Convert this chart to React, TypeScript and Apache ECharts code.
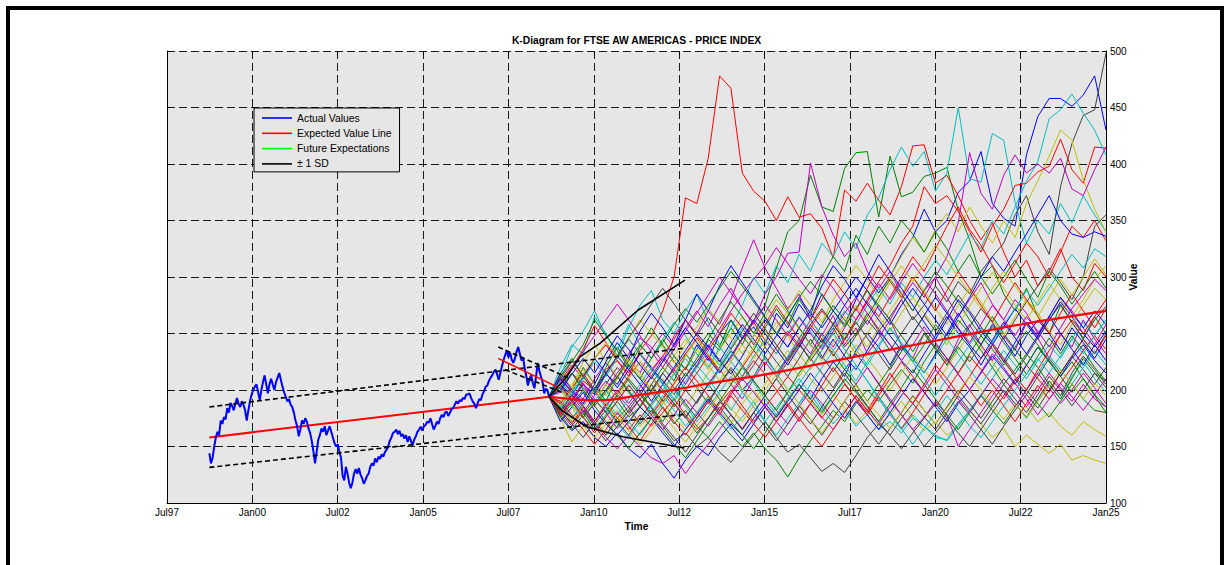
import React, { useEffect, useRef } from "react";
import * as echarts from "echarts";

const TITLE = "K-Diagram for FTSE AW AMERICAS - PRICE INDEX";
const FONT = '"Liberation Sans", Arial, Helvetica, sans-serif';

const X_MIN = 1997.5;
const X_MAX = 2025;
const X_INTERVAL = 2.5;
const Y_MIN = 100;
const Y_MAX = 500;
const Y_INTERVAL = 50;

// Actual values (evenly spaced observations)
const ACTUAL_START = 1998.74;
const ACTUAL_END = 2008.69;
const ACTUAL_VALUES = [
  144, 135, 140, 150, 158, 163, 160, 173, 170, 176,
  174, 184, 180, 188.5, 186, 182, 188, 193, 188, 185,
  190, 187, 182, 173, 182, 190, 196, 200, 203, 205,
  198, 191, 200, 207, 213, 205, 197, 205, 210, 205,
  200, 207, 211, 215, 209, 203, 198, 194, 190, 192,
  187, 185, 180, 173, 168, 159, 165, 173, 170, 175,
  172, 166, 162, 155, 146, 135, 145, 156, 160, 166,
  163, 168, 160, 164, 168, 163, 158, 153, 150, 152,
  145, 140, 124, 120, 132, 126, 118, 113, 118, 126,
  130, 126, 131, 125, 122, 117, 120, 124, 126, 132,
  135, 133, 139.5, 136, 141, 139, 143, 141, 145, 147,
  150, 155, 158, 162, 163, 165, 161, 164, 159, 161,
  157, 160, 154, 159, 155, 151, 156, 159, 163, 165,
  167.5, 164, 168, 169, 172, 171, 175, 170, 165, 168,
  172, 170, 175, 178, 176, 180, 181, 177, 180, 183,
  184, 187, 190, 188, 191, 190, 193, 192, 196, 196,
  197, 193, 190, 188, 184, 188, 192, 191, 196, 199,
  203, 204, 208, 211, 213, 216, 218, 214, 209, 215,
  221, 226.5, 231, 235, 229, 233, 227, 224, 228, 234,
  238, 232, 226, 229, 219, 212, 204, 210, 213, 206,
  201.5, 212, 224, 217, 212, 207, 197, 201, 200, 194,
];

// Historical trend and its +/- 1 SD band
const HIST_TREND_YEARS = [1998.74, 2008.69];
const HIST_TREND_VALUES = [158, 194];
const HIST_SD_YEARS = [1998.74, 2012.65];
const HIST_SD_UPPER = [185, 237];
const HIST_SD_LOWER = [131.5, 178.5];

// Local (recent) trend with band
const LOCAL_TREND_YEARS = [2007.2, 2008.91];
const LOCAL_TREND_VALUES = [228, 203];
const LOCAL_UPPER_YEARS = [2007.2, 2009.24];
const LOCAL_UPPER_VALUES = [238, 211];
const LOCAL_LOWER_YEARS = [2007.4, 2009.06];
const LOCAL_LOWER_VALUES = [218, 198];

// Future expected value
const FUT_EXP_YEARS = [2008.69, 2009.5, 2010.3, 2011.35, 2012.5, 2013.5, 2014.87, 2016.5, 2018.38, 2020.5, 2022.5, 2025];
const FUT_EXP_VALUES = [194, 191.5, 191, 195.6, 201, 206.5, 213, 222.5, 234, 246.5, 258, 270];

// Future +/- 1 SD
const FUT_SD_UP_YEARS = [2008.69, 2009.21, 2009.6, 2010.18, 2011.3, 2012.67];
const FUT_SD_UP_VALUES = [194, 211.8, 229.5, 241.3, 270.8, 297.3];
const FUT_SD_LO_YEARS = [2008.69, 2009.06, 2009.79, 2010.85, 2012.65];
const FUT_SD_LO_VALUES = [194, 182, 167.5, 158.7, 148.6];

// Simulated future paths
const FUTURE_START = 2008.69;
const FUTURE_END = 2025;
const FUTURE_PATHS: number[][] = [
  [194, 178, 190, 205, 196, 214, 205, 222, 210, 198,
   215, 230, 218, 240, 226, 250, 262, 245, 256, 240,
   268, 255, 276, 262, 285, 270, 258, 280, 300, 286,
   300, 320, 335, 360, 340, 350, 375, 385, 411, 365,
   352, 345, 408, 442, 458, 458, 451, 461, 478, 430],
  [194, 210, 198, 220, 205, 190, 212, 200, 185, 205,
   220, 208, 232, 220, 245, 235, 255, 240, 262, 275,
   308, 340, 350, 390, 362, 358, 396, 410, 411, 353,
   407, 371, 375, 389, 392, 397, 359, 333, 300, 310,
   285, 270, 290, 265, 250, 275, 260, 245, 265, 250],
  [194, 203, 190, 208, 200, 218, 226, 212, 235, 248,
   270, 300, 370, 365, 405, 478, 467, 392, 376, 367,
   350, 371, 353, 356, 343, 317, 377, 367, 383, 368,
   355, 380, 416, 417, 383, 390, 372, 350, 333, 348,
   322, 300, 315, 292, 305, 325, 300, 288, 312, 300],
  [194, 220, 240, 232, 265, 250, 230, 255, 275, 288,
   262, 250, 270, 285, 260, 240, 255, 275, 300, 285,
   310, 295, 320, 305, 330, 318, 340, 325, 355, 370,
   395, 415, 398, 411, 376, 392, 450, 387, 384, 427,
   421, 366, 330, 350, 338, 365, 348, 372, 355, 340],
  [194, 185, 200, 192, 210, 224, 210, 232, 246, 238,
   225, 248, 262, 250, 270, 258, 280, 308, 333, 308,
   290, 272, 285, 262, 248, 266, 240, 255, 232, 246,
   262, 240, 228, 250, 236, 222, 245, 258, 240, 226,
   248, 235, 260, 246, 228, 250, 238, 262, 245, 232],
  [194, 172, 185, 168, 176, 160, 172, 182, 168, 178,
   190, 176, 165, 180, 195, 182, 170, 188, 200, 186,
   175, 192, 205, 190, 178, 196, 184, 170, 182, 168,
   178, 190, 176, 164, 172, 160, 168, 182, 170, 158,
   166, 150, 160, 152, 144, 152, 138, 142, 138, 135],
  [194, 182, 196, 185, 170, 182, 195, 180, 192, 205,
   190, 200, 215, 202, 188, 205, 218, 200, 212, 230,
   215, 228, 242, 226, 240, 255, 238, 250, 268, 252,
   265, 280, 262, 275, 292, 278, 296, 285, 305, 318,
   330, 355, 372, 340, 320, 380, 418, 443, 448, 498],
  [194, 176, 164, 172, 158, 150, 162, 148, 140, 152,
   135, 122, 138, 150, 142, 158, 170, 160, 175, 188,
   176, 190, 205, 192, 210, 225, 212, 235, 250, 238,
   222, 240, 228, 215, 232, 250, 268, 252, 240, 258,
   245, 230, 248, 262, 250, 235, 255, 242, 228, 245],
  [194, 185, 172, 180, 165, 178, 190, 176, 185, 198,
   184, 170, 182, 168, 158, 172, 160, 150, 162, 148,
   138, 123, 140, 155, 168, 182, 172, 188, 200, 190,
   205, 218, 206, 225, 240, 228, 215, 232, 248, 236,
   222, 238, 252, 240, 226, 212, 225, 210, 196, 185],
  [194, 208, 222, 210, 228, 240, 226, 215, 232, 220,
   205, 218, 232, 246, 230, 216, 228, 245, 260, 244,
   232, 250, 238, 255, 270, 258, 245, 262, 280, 296,
   310, 330, 345, 380, 365, 372, 358, 340, 322, 345,
   360, 381, 383, 393, 398, 422, 395, 383, 415, 414],
  [194, 180, 192, 176, 165, 178, 190, 205, 192, 180,
   195, 182, 168, 180, 194, 178, 165, 176, 190, 172,
   160, 175, 188, 200, 185, 170, 182, 168, 178, 165,
   172, 162, 175, 168, 158, 156, 170, 182, 196, 185,
   200, 188, 175, 190, 205, 192, 212, 225, 210, 198],
  [194, 198, 215, 205, 188, 200, 215, 228, 215, 236,
   250, 238, 255, 270, 256, 275, 290, 272, 260, 285,
   300, 321, 322, 401, 362, 337, 318, 330, 305, 290,
   305, 285, 270, 288, 300, 282, 265, 280, 295, 276,
   262, 280, 268, 250, 265, 282, 270, 255, 240, 258],
  [194, 190, 205, 218, 205, 195, 210, 225, 212, 200,
   215, 230, 245, 232, 218, 236, 250, 265, 250, 238,
   255, 270, 288, 275, 260, 280, 295, 310, 298, 282,
   300, 318, 335, 322, 342, 356, 340, 362, 345, 330,
   350, 335, 365, 385, 407, 430, 421, 386, 360, 340],
  [194, 188, 175, 186, 172, 160, 175, 185, 170, 182,
   168, 155, 162, 150, 158, 145, 136, 148, 160, 172,
   158, 145, 152, 140, 128, 135, 127, 142, 158, 170,
   160, 175, 188, 176, 165, 180, 195, 182, 170, 185,
   200, 188, 176, 192, 208, 195, 215, 230, 218, 205],
  [194, 205, 195, 212, 228, 215, 202, 218, 232, 220,
   208, 196, 212, 225, 240, 226, 214, 230, 248, 262,
   250, 238, 255, 240, 228, 245, 230, 218, 235, 252,
   240, 226, 215, 232, 248, 265, 250, 238, 222, 240,
   256, 272, 258, 245, 262, 278, 265, 250, 238, 252],
  [194, 215, 228, 212, 200, 220, 238, 222, 210, 228,
   245, 230, 218, 236, 250, 238, 262, 248, 235, 255,
   272, 258, 280, 265, 300, 318, 305, 337, 320, 345,
   330, 350, 338, 322, 340, 325, 305, 320, 300, 285,
   300, 315, 298, 282, 305, 292, 276, 290, 305, 290],
  [194, 182, 170, 185, 172, 188, 175, 165, 178, 168,
   180, 192, 178, 165, 175, 188, 200, 186, 172, 185,
   198, 212, 200, 188, 175, 190, 205, 192, 180, 195,
   210, 225, 212, 198, 185, 200, 215, 230, 218, 205,
   192, 208, 222, 210, 198, 215, 230, 245, 232, 248],
  [194, 212, 238, 252, 270, 248, 235, 258, 240, 228,
   245, 260, 248, 232, 220, 238, 225, 212, 230, 245,
   232, 250, 265, 252, 238, 255, 270, 258, 275, 290,
   276, 295, 282, 300, 315, 302, 320, 338, 325, 350,
   338, 362, 385, 402, 440, 448, 462, 445, 430, 408],
  [194, 205, 192, 180, 195, 208, 196, 185, 198, 212,
   200, 188, 175, 190, 205, 218, 205, 192, 210, 225,
   212, 228, 245, 232, 250, 238, 255, 272, 258, 275,
   262, 280, 295, 282, 300, 318, 348, 410, 374, 360,
   390, 408, 392, 400, 392, 405, 378, 372, 395, 415],
  [194, 175, 154, 168, 158, 170, 182, 170, 185, 198,
   210, 196, 185, 200, 215, 228, 215, 200, 190, 205,
   220, 235, 222, 210, 198, 212, 225, 240, 228, 215,
   200, 215, 230, 218, 205, 220, 235, 250, 238, 225,
   210, 198, 185, 172, 180, 168, 160, 172, 165, 159],
  [194, 200, 215, 202, 190, 205, 220, 208, 195, 212,
   228, 215, 200, 188, 205, 220, 235, 222, 208, 195,
   210, 225, 240, 228, 215, 202, 218, 232, 220, 205,
   190, 178, 165, 150, 162, 175, 190, 178, 165, 152,
   168, 182, 196, 184, 200, 215, 230, 218, 205, 220],
  [194, 172, 185, 198, 182, 170, 160, 172, 185, 175,
   162, 150, 165, 178, 192, 180, 168, 155, 170, 185,
   172, 186, 200, 215, 202, 188, 175, 190, 178, 165,
   180, 195, 210, 198, 185, 172, 188, 200, 215, 230,
   218, 205, 222, 238, 225, 212, 228, 240, 226, 215],
  [194, 210, 225, 240, 262, 248, 235, 220, 238, 255,
   240, 225, 212, 228, 245, 262, 278, 265, 250, 268,
   285, 270, 255, 240, 258, 275, 262, 248, 265, 282,
   298, 285, 270, 288, 305, 292, 278, 262, 248, 265,
   250, 236, 222, 238, 225, 212, 198, 210, 195, 180],
  [194, 188, 202, 215, 200, 186, 198, 212, 225, 212,
   198, 185, 200, 215, 230, 218, 205, 220, 235, 222,
   238, 252, 240, 258, 245, 230, 245, 262, 278, 265,
   282, 300, 318, 305, 325, 345, 362, 342, 328, 310,
   295, 312, 330, 318, 300, 322, 345, 335, 350, 332],
  [194, 202, 186, 175, 188, 200, 185, 172, 160, 175,
   188, 200, 186, 172, 185, 198, 212, 198, 185, 172,
   185, 198, 210, 196, 182, 195, 208, 222, 208, 192,
   178, 165, 178, 168, 160, 155, 168, 182, 196, 210,
   225, 212, 200, 215, 230, 218, 205, 220, 235, 222],
  [194, 180, 168, 182, 170, 158, 148, 160, 150, 140,
   135, 142, 126, 140, 152, 165, 178, 166, 180, 195,
   182, 170, 185, 200, 188, 175, 190, 205, 220, 206,
   192, 178, 165, 176, 190, 178, 150, 165, 180, 195,
   210, 198, 185, 200, 215, 202, 190, 205, 192, 185],
  [194, 215, 202, 225, 240, 226, 212, 228, 215, 200,
   188, 205, 220, 236, 222, 208, 225, 240, 228, 244,
   260, 248, 232, 218, 235, 250, 265, 252, 238, 255,
   270, 285, 300, 288, 272, 258, 275, 290, 278, 262,
   248, 265, 280, 268, 252, 240, 258, 275, 290, 280],
  [194, 182, 170, 158, 172, 185, 172, 160, 175, 188,
   200, 188, 176, 190, 205, 192, 178, 165, 180, 195,
   210, 196, 182, 170, 185, 200, 215, 200, 186, 172,
   160, 148, 162, 175, 188, 175, 162, 150, 165, 180,
   195, 210, 196, 212, 228, 215, 230, 245, 232, 250],
  [194, 210, 198, 186, 200, 215, 230, 218, 205, 190,
   205, 220, 235, 250, 238, 225, 242, 258, 245, 232,
   248, 265, 282, 268, 255, 270, 285, 300, 288, 272,
   258, 275, 290, 276, 262, 248, 265, 282, 300, 318,
   305, 322, 338, 355, 372, 350, 338, 335, 340, 336],
  [194, 176, 188, 200, 186, 172, 160, 148, 162, 175,
   165, 152, 140, 155, 170, 185, 172, 160, 148, 162,
   178, 192, 205, 192, 180, 195, 210, 198, 185, 172,
   188, 202, 218, 205, 192, 178, 165, 180, 195, 182,
   170, 185, 200, 188, 176, 190, 205, 192, 182, 180],
  [194, 205, 220, 236, 257, 242, 228, 245, 232, 218,
   230, 245, 262, 248, 235, 250, 268, 255, 240, 258,
   275, 260, 245, 262, 280, 298, 285, 270, 290, 310,
   296, 282, 300, 285, 270, 288, 305, 290, 275, 260,
   278, 295, 280, 265, 250, 268, 285, 270, 255, 272],
  [194, 190, 175, 188, 202, 190, 178, 192, 205, 220,
   206, 192, 208, 222, 210, 196, 182, 198, 212, 228,
   215, 200, 188, 205, 220, 235, 222, 208, 225, 240,
   255, 242, 228, 215, 230, 245, 232, 218, 205, 220,
   235, 222, 210, 226, 240, 228, 245, 260, 248, 262],
  [194, 178, 192, 206, 192, 180, 166, 178, 192, 178,
   165, 178, 192, 180, 168, 182, 196, 210, 198, 185,
   172, 160, 175, 188, 176, 165, 180, 195, 182, 170,
   185, 200, 188, 202, 218, 205, 192, 180, 195, 210,
   198, 185, 200, 215, 202, 188, 200, 215, 202, 188],
  [194, 200, 188, 175, 190, 205, 192, 210, 225, 212,
   198, 215, 230, 245, 232, 218, 205, 222, 238, 252,
   240, 226, 212, 228, 244, 260, 246, 232, 250, 265,
   252, 268, 282, 268, 255, 240, 258, 274, 290, 304,
   290, 275, 262, 278, 294, 280, 265, 280, 298, 310],
  [194, 205, 190, 176, 188, 200, 212, 198, 185, 200,
   215, 202, 188, 175, 190, 205, 220, 208, 222, 238,
   225, 212, 228, 245, 230, 216, 232, 248, 262, 250,
   235, 250, 265, 252, 238, 225, 240, 256, 272, 260,
   245, 262, 278, 292, 308, 295, 280, 300, 345, 355],
  [194, 215, 200, 188, 205, 225, 242, 228, 252, 268,
   255, 240, 262, 285, 270, 292, 310, 295, 280, 265,
   250, 238, 255, 270, 292, 310, 298, 282, 300, 320,
   305, 290, 275, 260, 245, 262, 280, 268, 252, 240,
   225, 242, 260, 248, 265, 282, 268, 255, 270, 258],
  [194, 178, 165, 178, 192, 180, 196, 210, 198, 185,
   172, 188, 176, 162, 175, 190, 205, 220, 208, 195,
   182, 198, 215, 230, 245, 232, 218, 205, 190, 205,
   220, 238, 225, 240, 258, 245, 262, 250, 235, 220,
   205, 218, 232, 220, 205, 192, 210, 228, 215, 208],
  [194, 190, 178, 165, 152, 165, 180, 168, 155, 170,
   185, 172, 160, 175, 190, 178, 195, 182, 170, 158,
   172, 188, 175, 162, 150, 165, 180, 195, 182, 198,
   215, 200, 188, 205, 222, 210, 196, 212, 228, 240,
   226, 212, 200, 218, 235, 248, 262, 250, 265, 280],
  [194, 208, 195, 210, 225, 212, 228, 245, 232, 218,
   205, 190, 205, 220, 235, 222, 238, 255, 242, 228,
   215, 230, 246, 262, 248, 235, 250, 236, 222, 238,
   255, 240, 225, 210, 195, 210, 225, 240, 255, 242,
   258, 272, 288, 275, 290, 305, 320, 308, 325, 318],
  [194, 212, 198, 186, 172, 186, 200, 188, 202, 216,
   230, 218, 205, 222, 238, 254, 270, 285, 298, 310,
   326, 312, 298, 285, 302, 290, 275, 262, 278, 294,
   280, 296, 312, 298, 285, 270, 255, 242, 258, 275,
   262, 248, 265, 252, 238, 255, 272, 285, 298, 288],
  [194, 186, 200, 214, 228, 242, 230, 246, 262, 250,
   238, 224, 240, 256, 272, 260, 246, 232, 248, 264,
   280, 268, 254, 240, 226, 242, 258, 275, 262, 278,
   295, 310, 296, 312, 328, 315, 300, 286, 272, 290,
   305, 292, 278, 265, 282, 298, 284, 300, 316, 302],
  [194, 180, 195, 182, 168, 155, 168, 182, 196, 184,
   170, 158, 145, 160, 175, 190, 178, 165, 180, 168,
   155, 170, 186, 174, 160, 175, 190, 178, 165, 152,
   166, 180, 195, 182, 170, 185, 200, 188, 175, 190,
   205, 192, 180, 196, 212, 200, 186, 200, 215, 202],
  [194, 200, 214, 228, 215, 232, 248, 236, 222, 210,
   225, 240, 255, 242, 228, 215, 230, 246, 262, 250,
   236, 222, 238, 255, 242, 258, 275, 290, 276, 262,
   248, 235, 250, 266, 282, 268, 254, 240, 228, 244,
   260, 246, 232, 248, 265, 250, 236, 222, 240, 226],
  [194, 202, 215, 200, 186, 198, 212, 226, 240, 228,
   242, 258, 272, 260, 275, 290, 305, 292, 278, 264,
   250, 266, 282, 296, 284, 270, 256, 272, 288, 275,
   262, 248, 234, 250, 236, 222, 238, 225, 240, 256,
   242, 228, 214, 230, 246, 232, 248, 235, 220, 208],
  [194, 178, 190, 176, 162, 176, 190, 204, 192, 178,
   192, 206, 220, 208, 195, 182, 198, 212, 226, 214,
   200, 186, 172, 188, 204, 220, 206, 192, 178, 194,
   180, 166, 180, 196, 212, 228, 214, 200, 186, 200,
   186, 172, 188, 204, 192, 206, 220, 235, 248, 236],
  [194, 185, 198, 212, 198, 184, 170, 158, 172, 186,
   200, 214, 228, 215, 202, 218, 234, 220, 206, 192,
   178, 192, 206, 220, 235, 250, 236, 222, 208, 194,
   180, 166, 152, 166, 180, 195, 182, 168, 158, 172,
   186, 200, 214, 228, 215, 230, 245, 232, 248, 262],
  [194, 206, 220, 234, 248, 262, 276, 262, 248, 234,
   220, 236, 252, 268, 284, 300, 286, 272, 258, 275,
   262, 248, 264, 250, 236, 252, 268, 282, 268, 254,
   240, 226, 240, 256, 242, 228, 214, 200, 216, 232,
   220, 206, 192, 178, 192, 206, 194, 182, 196, 210],
  [194, 184, 172, 186, 200, 188, 176, 164, 152, 164,
   178, 166, 154, 168, 182, 196, 184, 172, 186, 200,
   214, 200, 188, 174, 162, 176, 190, 204, 190, 178,
   166, 180, 194, 182, 170, 184, 198, 212, 200, 186,
   174, 188, 176, 190, 204, 218, 205, 192, 206, 195],
  [194, 212, 226, 212, 198, 214, 230, 246, 260, 276,
   290, 276, 262, 248, 264, 250, 236, 252, 268, 254,
   240, 226, 242, 258, 272, 258, 244, 260, 246, 232,
   218, 234, 250, 266, 252, 268, 284, 270, 256, 242,
   228, 214, 230, 246, 262, 276, 260, 246, 262, 274],
];

const PATH_COLORS = ["#0000ff", "#008000", "#ff0000", "#00bfbf", "#bf00bf", "#bfbf00", "#404040"];

const LEGEND_NAMES = ["Actual Values", "Expected Value Line", "Future Expectations", "\u00b1 1 SD"];

function pairs(years: number[], values: number[]) {
  return years.map((y, i) => [y, values[i]]);
}

function xLabel(v: number) {
  const yr = Math.floor(v + 1e-6);
  const frac = v - yr;
  const yy = String(yr % 100).padStart(2, "0");
  return (frac > 0.25 ? "Jul" : "Jan") + yy;
}

function buildOption() {
  const actualData = ACTUAL_VALUES.map((v, i) => [
    ACTUAL_START + (i * (ACTUAL_END - ACTUAL_START)) / (ACTUAL_VALUES.length - 1),
    v,
  ]);

  const pathSeries = FUTURE_PATHS.map((path, k) => ({
    type: "line",
    name: "path" + k,
    data: path.map((v, i) => [FUTURE_START + (i * (FUTURE_END - FUTURE_START)) / (path.length - 1), v]),
    symbol: "none",
    silent: true,
    color: PATH_COLORS[k % PATH_COLORS.length],
    lineStyle: { width: 1, color: PATH_COLORS[k % PATH_COLORS.length] },
    z: 2,
  }));

  const line = (name: string, data: number[][], color: string, width: number, type: any = "solid", z = 5) => ({
    type: "line",
    name,
    data,
    symbol: "none",
    silent: true,
    color,
    lineStyle: { width, color, type },
    z,
  });

  const axisText = { color: "#000", fontFamily: FONT, fontSize: 10 };
  const gridLine = { show: true, lineStyle: { type: [8, 4], color: "#1a1a1a", width: 1 } };

  return {
    animation: false,
    backgroundColor: "#ffffff",
    title: {
      text: TITLE,
      left: 636.5,
      top: 35,
      textAlign: "center",
      padding: 0,
      textStyle: { fontSize: 10.3, fontWeight: "bold", fontFamily: FONT, color: "#000" },
    },
    legend: {
      data: LEGEND_NAMES,
      orient: "vertical",
      left: 254,
      top: 108,
      padding: [5, 8, 3, 8],
      itemGap: 5.3,
      itemWidth: 30,
      itemHeight: 1.6,
      icon: "rect",
      backgroundColor: "#e6e6e6",
      borderColor: "#000",
      borderWidth: 1,
      selectedMode: false,
      textStyle: { fontSize: 10.4, fontFamily: FONT, color: "#000", lineHeight: 10 },
    },
    grid: {
      left: 167,
      right: 118,
      top: 51,
      bottom: 62,
      show: true,
      backgroundColor: "#e6e6e6",
      borderWidth: 0,
    },
    xAxis: [
      {
        type: "value",
        min: X_MIN,
        max: X_MAX,
        interval: X_INTERVAL,
        position: "bottom",
        name: "Time",
        nameLocation: "middle",
        nameGap: 18,
        nameMoveOverlap: false,
        nameTextStyle: { ...axisText, fontWeight: "bold", fontSize: 10.3 },
        axisLine: { show: true, onZero: false, lineStyle: { color: "#000", width: 1 } },
        axisTick: { show: true, inside: true, length: 4, lineStyle: { color: "#000" } },
        axisLabel: { ...axisText, margin: 4, formatter: xLabel, showMinLabel: true, showMaxLabel: true },
        splitLine: gridLine,
      },
      {
        type: "value",
        min: X_MIN,
        max: X_MAX,
        interval: X_INTERVAL,
        position: "top",
        axisLine: { show: false },
        axisTick: { show: true, inside: true, length: 4, lineStyle: { color: "#000" } },
        axisLabel: { show: false },
        splitLine: { show: false },
      },
    ],
    yAxis: [
      {
        type: "value",
        min: Y_MIN,
        max: Y_MAX,
        interval: Y_INTERVAL,
        position: "right",
        name: "Value",
        nameLocation: "middle",
        nameRotate: 90,
        nameGap: 22,
        nameMoveOverlap: false,
        nameTextStyle: { ...axisText, fontWeight: "bold", fontSize: 10.3 },
        axisLine: { show: true, onZero: false, lineStyle: { color: "#000", width: 1 } },
        axisTick: { show: true, inside: true, length: 4, lineStyle: { color: "#000" } },
        axisLabel: { ...axisText, margin: 4 },
        splitLine: gridLine,
      },
      {
        type: "value",
        min: Y_MIN,
        max: Y_MAX,
        interval: Y_INTERVAL,
        position: "left",
        axisLine: { show: true, onZero: false, lineStyle: { color: "#000", width: 1 } },
        axisTick: { show: true, inside: true, length: 4, lineStyle: { color: "#000" } },
        axisLabel: { show: false },
        splitLine: { show: false },
      },
    ],
    graphic: [
      {
        type: "rect",
        silent: true,
        z: 100,
        shape: { x: 8, y: 8, width: 1214, height: 600 },
        style: { fill: "none", stroke: "#000", lineWidth: 4 },
      },
    ],
    series: [
      line("Actual Values", actualData, "#0000ff", 2, "solid", 6),
      line("Expected Value Line", pairs(HIST_TREND_YEARS, HIST_TREND_VALUES), "#ff0000", 2, "solid", 5),
      line("Future Expectations", [], "#00ff00", 2),
      line("\u00b1 1 SD", pairs(FUT_SD_UP_YEARS, FUT_SD_UP_VALUES), "#000000", 1.6, "solid", 8),
      line("sdLower", pairs(FUT_SD_LO_YEARS, FUT_SD_LO_VALUES), "#000000", 1.6, "solid", 8),
      line("histUpper", pairs(HIST_SD_YEARS, HIST_SD_UPPER), "#000000", 1.6, [5, 3], 7),
      line("histLower", pairs(HIST_SD_YEARS, HIST_SD_LOWER), "#000000", 1.6, [5, 3], 7),
      line("localTrend", pairs(LOCAL_TREND_YEARS, LOCAL_TREND_VALUES), "#ff0000", 1.6, "solid", 7),
      line("localUpper", pairs(LOCAL_UPPER_YEARS, LOCAL_UPPER_VALUES), "#000000", 1.6, [5, 3], 7),
      line("localLower", pairs(LOCAL_LOWER_YEARS, LOCAL_LOWER_VALUES), "#000000", 1.6, [5, 3], 7),
      ...pathSeries,
      { ...line("futureExpected", pairs(FUT_EXP_YEARS, FUT_EXP_VALUES), "#ff0000", 2.2, "solid", 6), smooth: 0.3 },
    ],
  };
}

export default function App() {
  const ref = useRef<HTMLDivElement>(null);
  useEffect(() => {
    if (!ref.current) return;
    const chart = echarts.init(ref.current, undefined, { renderer: "svg" });
    chart.setOption(buildOption() as any);
    return () => chart.dispose();
  }, []);
  return (
    <div
      ref={ref}
      style={{ position: "fixed", left: 0, top: 0, width: 1224, height: 565, background: "#fff" }}
    />
  );
}
